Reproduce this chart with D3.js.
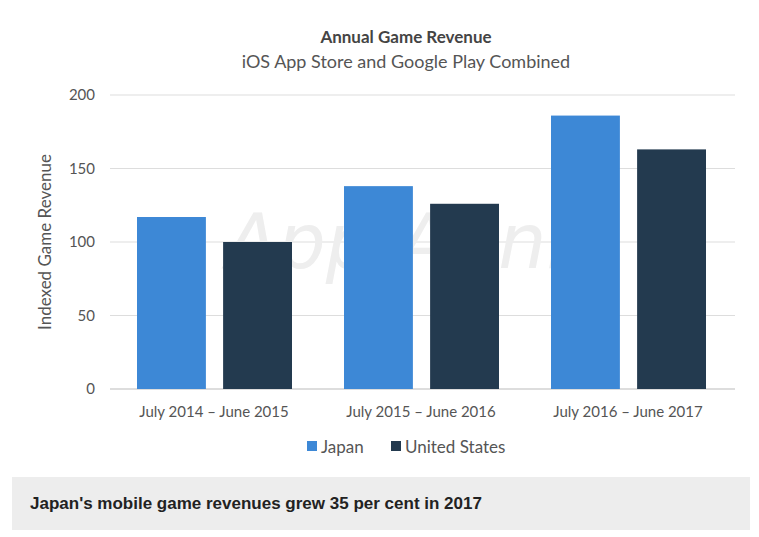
<!DOCTYPE html>
<html><head><meta charset="utf-8">
<script src="https://cdn.jsdelivr.net/npm/d3@7"></script>
<style>body{margin:0;background:#fff;font-family:Lato,"Open Sans",sans-serif}</style>
</head><body><svg id="c" width="759" height="537"></svg>
<script>
const categories=["July 2014 – June 2015","July 2015 – June 2016","July 2016 – June 2017"];
const series=["Japan","United States"];
const japan=[117,138,186];
const us=[100,126,163];
const yTicks=[0,50,100,150,200];
const colors=["#3d88d6","#233a4f"];

const svg=d3.select("#c");
const x0=d3.scaleBand().domain(categories).range([110,731]);
const x1=d3.scaleBand().domain(series).range([27,182]).paddingInner(0.2);
const y=d3.scaleLinear().domain([0,200]).range([389,95]);

svg.append("text").attr("x",406).attr("y",43).attr("text-anchor","middle").attr("font-weight","bold").attr("font-size",17).attr("fill","#444").text("Annual Game Revenue");
svg.append("text").attr("x",406).attr("y",68).attr("text-anchor","middle").attr("font-size",18).attr("fill","#555").text("iOS App Store and Google Play Combined");

const g=svg.append("g");
yTicks.forEach(t=>{
  g.append("line").attr("x1",110).attr("x2",735).attr("y1",y(t)).attr("y2",y(t)).attr("stroke",t===0?"#bbb":"#ddd");
  g.append("text").attr("x",95).attr("y",y(t)+5).attr("text-anchor","end").attr("font-size",15).attr("fill","#555").text(t);
});
svg.append("text").attr("transform","translate(51,242) rotate(-90)").attr("text-anchor","middle").attr("font-size",17).attr("fill","#555").text("Indexed Game Revenue");

svg.append("text").attr("x",420).attr("y",268).attr("text-anchor","middle").attr("font-size",76).attr("font-style","italic").attr("fill","#eee").attr("font-family","DejaVu Sans").text("App Annie");

const vals=[japan,us];
categories.forEach((c,i)=>{
  series.forEach((s,j)=>{
    svg.append("rect").attr("x",x0(c)+x1(s)).attr("width",x1.bandwidth()).attr("y",y(vals[j][i])).attr("height",y(0)-y(vals[j][i])).attr("fill",colors[j]);
  });
  svg.append("text").attr("x",x0(c)+104).attr("y",417).attr("text-anchor","middle").attr("font-size",15).attr("fill","#555").text(c);
});

const lx=[307,391];
series.forEach((s,j)=>{
  svg.append("rect").attr("x",lx[j]).attr("y",441).attr("width",10).attr("height",10).attr("fill",colors[j]);
  svg.append("text").attr("x",lx[j]+14).attr("y",453).attr("font-size",17).attr("fill","#555").text(s);
});

svg.append("rect").attr("x",12).attr("y",477).attr("width",738).attr("height",53).attr("fill","#ededed");
svg.append("text").attr("x",30).attr("y",509).attr("font-size",17).attr("font-weight","bold").attr("font-family","Liberation Sans, Arial").attr("fill","#222").text("Japan's mobile game revenues grew 35 per cent in 2017");
</script></body></html>
